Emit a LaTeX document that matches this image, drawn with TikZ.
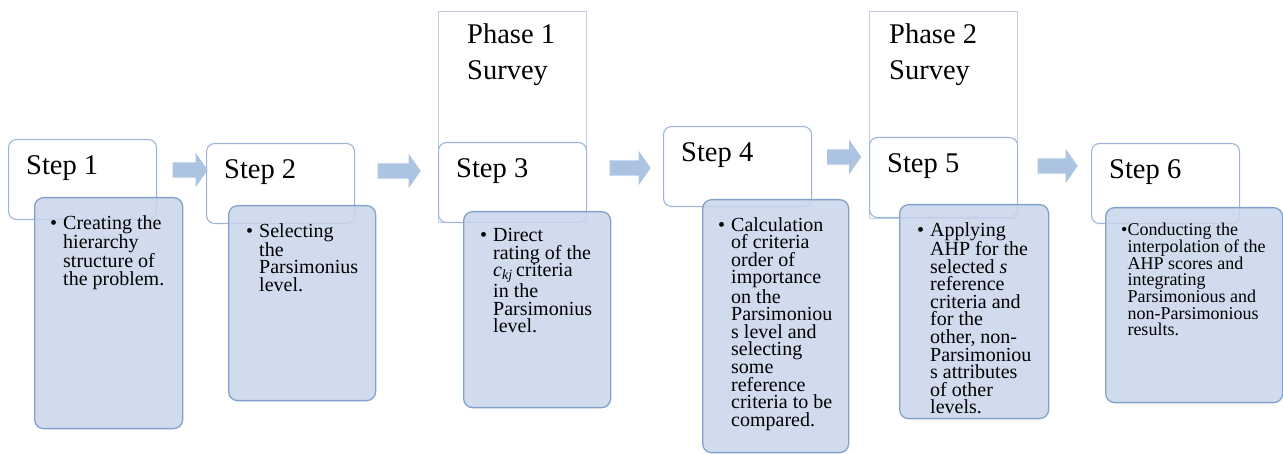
\documentclass[tikz,border=0pt]{standalone}
\usepackage{fontspec}
\setmainfont{Liberation Serif}
\usepackage{xcolor}
\usepackage{tikz}
\usetikzlibrary{shapes.arrows}

\definecolor{boxline}{RGB}{157,182,216}
\definecolor{phaseline}{RGB}{192,205,228}
\definecolor{detailfill}{RGB}{200,213,235}
\definecolor{detailline}{RGB}{130,162,204}
\definecolor{arrowfill}{RGB}{172,195,226}

\newcommand{\bulletlines}[2]{\textbullet\hspace{#1}\parbox[t]{140pt}{#2}}

\begin{document}
\begin{tikzpicture}%
                    [x=1pt, y=1pt,
                    phase/.style={draw=phaseline, line width=0.9pt, fill=white, minimum width=148pt, anchor=north west, inner sep=0pt},
                    stepbox/.style={draw=boxline, line width=1.1pt, fill=white, rounded corners=8pt, minimum width=148pt, minimum height=80pt, anchor=north west, inner sep=0pt},
                    detail/.style={draw=detailline, line width=1.3pt, fill=detailfill, fill opacity=0.85, rounded corners=9pt, anchor=north west, inner sep=0pt},
                    steptext/.style={anchor=base west, inner sep=0pt, font=\fontsize{28.5}{36}\selectfont},
                    phasetext/.style={anchor=north west, inner sep=0pt, align=left, font=\fontsize{28.5}{36}\selectfont},
                    itemtext/.style={anchor=north west, inner sep=0pt, align=left, font=\fontsize{20}{17.6}\selectfont},
                    flow/.style={single arrow, fill=arrowfill, draw=none, inner sep=0pt, minimum width=34pt, single arrow head extend=9.5pt, single arrow tip angle=110, text height=15pt, text depth=0pt}]
                \useasboundingbox (0,0) rectangle (1283,454);
                %% Survey phases (behind steps 3 and 5)
                \node[phase, minimum height=211pt] (ph1) at (438,443) {};
                \node[phase, minimum height=207pt] (ph2) at (869,443) {};
                \node[phasetext] (ph1t) at (467,430) {Phase 1\\Survey};
                \node[phasetext] (ph2t) at (889,430) {Phase 2\\Survey};
                %%
                %% Step boxes
                %%
                \node[stepbox] (s1) at (8,315) {};
                \node[stepbox] (s2) at (206,311) {};
                \node[stepbox] (s3) at (438,312) {};
                \node[stepbox] (s4) at (663,328) {};
                \node[stepbox] (s5) at (869,317) {};
                \node[stepbox] (s6) at (1091,311) {};
                \foreach \i in {1,...,6}
                    \node[steptext] (t\i) at ([shift={(18,-36)}]s\i.north west) {Step \i};
                %%
                %% Detail boxes
                %%
                \node[detail, minimum width=148pt, minimum height=231pt] (d1) at (34,257) {};
                \node[detail, minimum width=147pt, minimum height=195pt] (d2) at (228,249) {};
                \node[detail, minimum width=147pt, minimum height=196pt] (d3) at (463,243) {};
                \node[detail, minimum width=146pt, minimum height=253pt] (d4) at (702,255) {};
                \node[detail, minimum width=149pt, minimum height=214pt] (d5) at (899,250) {};
                \node[detail, minimum width=177pt, minimum height=195pt] (d6) at (1105,247) {};
                \node[itemtext] (i1) at ([shift={(16,-18)}]d1.north west)
                    {\bulletlines{6pt}{Creating the\\hierarchy\\structure of\\the problem.}};
                \node[itemtext] (i2) at ([shift={(18,-18)}]d2.north west)
                    {\bulletlines{6pt}{Selecting\\the\\Parsimonius\\level.}};
                \node[itemtext] (i3) at ([shift={(17,-17)}]d3.north west)
                    {\bulletlines{6pt}{Direct\\rating of the\\\textit{c}\textsubscript{\textit{kj}}\,criteria\\in the\\Parsimonius\\level.}};
                \node[itemtext] (i4) at ([shift={(16,-18)}]d4.north west)
                    {\bulletlines{6pt}{Calculation\\of criteria\\order of\\importance\\on the\\Parsimoniou\\s level and\\selecting\\some\\reference\\criteria to be\\compared.}};
                \node[itemtext] (i5) at ([shift={(18,-18)}]d5.north west)
                    {\bulletlines{6pt}{Applying\\AHP for the\\selected \textit{s}\\reference\\criteria and\\for the\\other, non-\\Parsimoniou\\s attributes\\of other\\levels.}};
                \node[itemtext, font=\fontsize{18}{16.7}\selectfont] (i6) at ([shift={(16,-16)}]d6.north west)
                    {\bulletlines{0pt}{Conducting the\\interpolation of the\\AHP scores and\\integrating\\Parsimonious and\\non-Parsimonious\\results.}};
                %%
                %% Arrows between steps
                %%
                \node[flow, minimum height=35pt] (a1) at (187.5,284) {};
                \node[flow, minimum height=43pt] (a2) at (396.5,283) {};
                \node[flow, minimum height=41pt] (a3) at (627.5,286) {};
                \node[flow, minimum height=34pt] (a4) at (841.5,297) {};
                \node[flow, minimum height=40pt] (a5) at (1055,288) {};
                \end{tikzpicture}
\end{document}
